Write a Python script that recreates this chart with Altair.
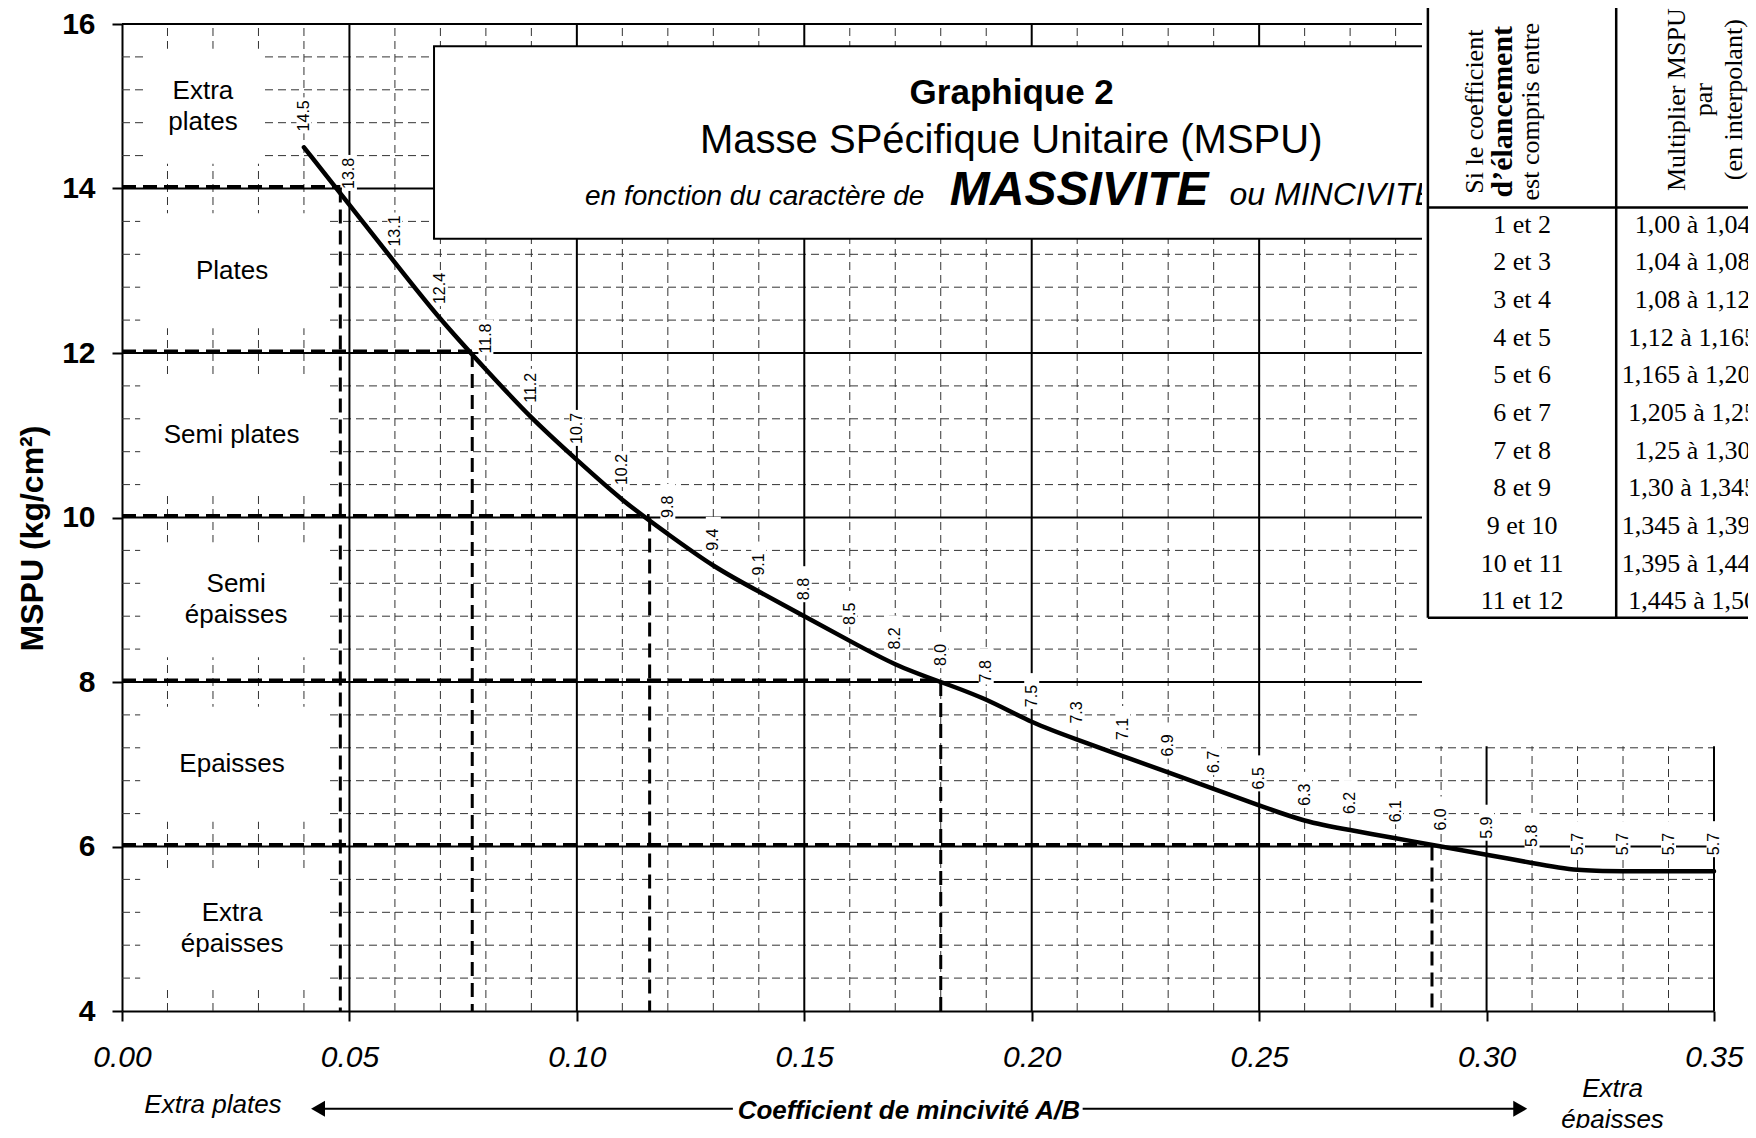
import altair as alt
import pandas as pd

# ---------------- data ----------------
coef_x = [0.04, 0.05, 0.06, 0.07, 0.08, 0.09, 0.10, 0.11, 0.12, 0.13, 0.14, 0.15,
          0.16, 0.17, 0.18, 0.19, 0.20, 0.21, 0.22, 0.23, 0.24, 0.25, 0.26, 0.27,
          0.28, 0.29, 0.30, 0.31, 0.32, 0.33, 0.34, 0.35]
mspu = [14.5, 13.8, 13.1, 12.4, 11.8, 11.2, 10.7, 10.2, 9.8, 9.4, 9.1, 8.8,
        8.5, 8.2, 8.0, 7.8, 7.5, 7.3, 7.1, 6.9, 6.7, 6.5, 6.3, 6.2,
        6.1, 6.0, 5.9, 5.8, 5.7, 5.7, 5.7, 5.7]
x_ticks = [0.00, 0.05, 0.10, 0.15, 0.20, 0.25, 0.30, 0.35]
y_ticks = [4, 6, 8, 10, 12, 14, 16]
class_lines = [["Extra", "plates"], ["Plates"], ["Semi plates"], ["Semi", "épaisses"],
               ["Epaisses"], ["Extra", "épaisses"]]
class_mid = [15, 13, 11, 9, 7, 5]
bound_y = [14, 12, 10, 8, 6]
bound_x = [0.048, 0.077, 0.116, 0.180, 0.288]
elancement = ["1 et 2", "2 et 3", "3 et 4", "4 et 5", "5 et 6", "6 et 7",
              "7 et 8", "8 et 9", "9 et 10", "10 et 11", "11 et 12"]
multiplier = ["1,00 à 1,04", "1,04 à 1,08", "1,08 à 1,12", "1,12 à 1,165",
              "1,165 à 1,205", "1,205 à 1,25", "1,25 à 1,30", "1,30 à 1,345",
              "1,345 à 1,395", "1,395 à 1,445", "1,445 à 1,50"]

# ---------------- layout ----------------
W, H = 1592, 987
PX = W / 0.35          # pixels per x unit
PY = H / 12.0          # pixels per y unit
SANS = "Liberation Sans"
SERIF = "Liberation Serif"

XS = alt.Scale(domain=[0, 0.35], nice=False, zero=False)
YS = alt.Scale(domain=[4, 16], nice=False, zero=False)

AXX = alt.Axis(values=x_ticks, format=".2f", labelFont=SANS, labelFontSize=30,
               labelFontStyle="italic", labelColor="black", labelPadding=21,
               labelFlush=False, labelOverlap=False, tickSize=10, tickWidth=2,
               tickColor="black", domainColor="black", domainWidth=2, grid=False)
AXY = alt.Axis(values=y_ticks, format="d", labelFont=SANS, labelFontSize=30,
               labelFontWeight="bold", labelColor="black", labelPadding=17,
               labelFlush=False, labelOverlap=False, tickSize=10, tickWidth=2,
               tickColor="black", domainColor="black", domainWidth=2, grid=False,
               titleFont=SANS, titleFontSize=32, titleFontWeight="bold",
               titleColor="black", titleX=-80, titleY=514, titleAngle=270,
               titleBaseline="alphabetic", titleAlign="center")
Y_TITLE = "MSPU (kg/cm²)"


def X(f):
    return alt.X(f, type="quantitative", scale=XS, axis=AXX, title="")


def Y(f):
    return alt.Y(f, type="quantitative", scale=YS, axis=AXY, title=Y_TITLE)


def rules_v(xs, y0, y1, **kw):
    df = pd.DataFrame({"x": xs, "y0": y0, "y1": y1})
    return alt.Chart(df).mark_rule(**kw).encode(x=X("x"), y=Y("y0"), y2=alt.Y2("y1"))


def rules_h(ys, x0, x1, **kw):
    df = pd.DataFrame({"y": ys, "x0": x0, "x1": x1})
    return alt.Chart(df).mark_rule(**kw).encode(y=Y("y"), x=X("x0"), x2=alt.X2("x1"))


def texts(df, **kw):
    return alt.Chart(df).mark_text(**kw).encode(x=X("x"), y=Y("y"), text=alt.Text("t:N"))


def rects(df, **kw):
    return alt.Chart(df).mark_rect(**kw).encode(x=X("x1"), x2=alt.X2("x2"), y=Y("y1"), y2=alt.Y2("y2"))


layers = []

# grid
minor_x = [round(0.01 * i, 2) for i in range(1, 35) if i % 5]
minor_y = [round(4 + 0.4 * i, 1) for i in range(1, 30) if i % 5]
dash_grid = dict(strokeDash=[8, 5], strokeWidth=1, color="#333")
layers.append(rules_v(minor_x, 4, 16, **dash_grid))
layers.append(rules_h(minor_y, 0, 0.35, **dash_grid))
layers.append(rules_v([0.05, 0.10, 0.15, 0.20, 0.25, 0.30, 0.35], 4, 16, strokeWidth=2, color="black"))
layers.append(rules_h([6, 8, 10, 12, 14, 16], 0, 0.35, strokeWidth=2, color="black"))

# category labels with white backgrounds
cb = pd.DataFrame({
    "x1": [0.005] + [0.004] * 5,
    "x2": [0.0305] + [0.045] * 5,
    "y1": [m - 0.70 for m in class_mid],
    "y2": [m + 0.70 for m in class_mid],
})
layers.append(rects(cb, color="white"))
cat_x = [0.0178, 0.0242, 0.0241, 0.0251, 0.0242, 0.0242]
rows = []
for lines, m, cx in zip(class_lines, class_mid, cat_x):
    n = len(lines)
    for k, s in enumerate(lines):
        rows.append({"t": s, "x": cx, "y": m + ((n - 1) / 2 - k) * 31 / PY})
layers.append(texts(pd.DataFrame(rows), font=SANS, fontSize=26, align="center",
                    baseline="middle", color="black"))

# title box
layers.append(rects(pd.DataFrame({"x1": [0.0686], "x2": [0.33], "y1": [13.39], "y2": [15.728]}),
                    fill="white", stroke="black", strokeWidth=2))
layers.append(texts(pd.DataFrame({"t": ["Graphique 2"], "x": [0.1956], "y": [15.03]}),
                    font=SANS, fontSize=35, fontWeight="bold", align="center",
                    baseline="alphabetic", color="black"))
layers.append(texts(pd.DataFrame({"t": ["Masse SPécifique Unitaire (MSPU)"], "x": [0.1955], "y": [14.434]}),
                    font=SANS, fontSize=40, align="center", baseline="alphabetic", color="black"))
layers.append(texts(pd.DataFrame({"t": ["en fonction du caractère de"], "x": [0.1018], "y": [13.80]}),
                    font=SANS, fontSize=28, fontStyle="italic", align="left",
                    baseline="alphabetic", color="black"))
layers.append(texts(pd.DataFrame({"t": ["MASSIVITE"], "x": [0.1820], "y": [13.80]}),
                    font=SANS, fontSize=48, fontStyle="italic", fontWeight="bold", align="left",
                    baseline="alphabetic", color="black"))
layers.append(texts(pd.DataFrame({"t": ["ou MINCIVITE"], "x": [0.2435], "y": [13.80]}),
                    font=SANS, fontSize=32, fontStyle="italic", align="left",
                    baseline="alphabetic", color="black"))

# blank area holding the table (top right)
layers.append(rects(pd.DataFrame({"x1": [0.2858], "x2": [0.40], "y1": [7.22], "y2": [17.0]}),
                    color="white"))

# table
T_LEFT, T_DIV, T_HEAD, T_BOT = 0.2871, 0.3285, 13.77, 8.782
layers.append(rules_v([T_LEFT, T_DIV], T_BOT, 17.0, strokeWidth=2.5, color="black"))
layers.append(rules_h([T_HEAD, T_BOT], T_LEFT, 0.40, strokeWidth=2.5, color="black"))
row_y = [13.560 - i * 37.65 / PY for i in range(len(elancement))]
layers.append(texts(pd.DataFrame({"t": elancement, "x": 0.3078, "y": row_y}),
                    font=SERIF, fontSize=26, align="center", baseline="middle", color="black"))
layers.append(texts(pd.DataFrame({"t": multiplier, "x": 0.3453, "y": row_y}),
                    font=SERIF, fontSize=26, align="center", baseline="middle", color="black"))
HDR1_Y = 16 - (112 - 24.3) / PY
HDR2_Y = 16 - (100 - 24.3) / PY
hdr = pd.DataFrame({"t": ["Si le coefficient", "est compris entre", "Multiplier MSPU", "par", "(en interpolant)"],
                    "x": [0.2974, 0.3097, 0.3418, 0.3479, 0.3545],
                    "y": [HDR1_Y, HDR1_Y, HDR2_Y, HDR2_Y, HDR2_Y]})
layers.append(texts(hdr, font=SERIF, fontSize=26, angle=270, align="center",
                    baseline="middle", color="black"))
layers.append(texts(pd.DataFrame({"t": ["d’élancement"], "x": [0.3036], "y": [HDR1_Y]}),
                    font=SERIF, fontSize=30, fontWeight="bold", angle=270, align="center",
                    baseline="middle", color="black"))

# reading lines (class boundaries)
thick = dict(strokeDash=[14, 7], strokeWidth=3, color="black")
hb = pd.DataFrame({"y": bound_y, "x0": 0, "x1": bound_x})
layers.append(alt.Chart(hb).mark_rule(yOffset=-2, **thick).encode(y=Y("y"), x=X("x0"), x2=alt.X2("x1")))
vb = pd.DataFrame({"x": bound_x, "y0": bound_y, "y1": 4})
layers.append(alt.Chart(vb).mark_rule(**thick).encode(x=X("x"), y=Y("y0"), y2=alt.Y2("y1")))

# value labels with white backgrounds
lab = pd.DataFrame({"x": coef_x, "y": mspu, "t": [f"{v:.1f}" for v in mspu]})
lab["x1"] = lab["x"] - 7.5 / PX
lab["x2"] = lab["x"] + 7.5 / PX
lab["y1"] = lab["y"] + 14 / PY
lab["y2"] = lab["y"] + 50 / PY
layers.append(rects(lab, color="white"))
layers.append(alt.Chart(lab).mark_text(font=SANS, fontSize=16, angle=270, align="left",
                                       baseline="middle", yOffset=-16, color="black")
              .encode(x=X("x"), y=Y("y"), text=alt.Text("t:N")))

# the curve
layers.append(alt.Chart(pd.DataFrame({"x": coef_x, "y": mspu})).mark_line(
    interpolate="basis", strokeWidth=4.5, color="black", strokeCap="round"
).encode(x=X("x"), y=Y("y")))

# bottom annotations
ARROW_Y = 2.812
layers.append(texts(pd.DataFrame({"t": ["Extra plates"], "x": [0.0200], "y": [2.763]}),
                    font=SANS, fontSize=26, fontStyle="italic", align="center",
                    baseline="alphabetic", color="black"))
layers.append(rules_h([ARROW_Y, ARROW_Y], [0.0431, 0.2112], [0.1343, 0.3074], strokeWidth=2, color="black"))
heads = pd.DataFrame({"x": [0.0431, 0.3074], "y": [ARROW_Y, ARROW_Y], "s": ["triangle-left", "triangle-right"]})
layers.append(alt.Chart(heads).mark_point(filled=True, size=260, color="black", opacity=1).encode(
    x=X("x"), y=Y("y"),
    shape=alt.Shape("s:N", scale=alt.Scale(domain=["triangle-left", "triangle-right"],
                                           range=["triangle-left", "triangle-right"]), legend=None)))
layers.append(texts(pd.DataFrame({"t": ["Coefficient de mincivité A/B"], "x": [0.1730], "y": [ARROW_Y]}),
                    font=SANS, fontSize=26, fontStyle="italic", fontWeight="bold", align="center",
                    baseline="middle", dy=2, color="black"))
layers.append(texts(pd.DataFrame({"t": ["Extra", "épaisses"], "x": [0.3277, 0.3277], "y": [3.055, 2.678]}),
                    font=SANS, fontSize=26, fontStyle="italic", align="center",
                    baseline="middle", color="black"))

chart = alt.layer(*layers).properties(
    width=W, height=H,
    autosize=alt.AutoSizeParams(type="none"),
    padding={"left": 114, "right": 34, "top": 16, "bottom": 117},
    background="white",
).configure_view(strokeWidth=0)

chart.save("out.html", embed_options={"renderer": "svg", "actions": False})
